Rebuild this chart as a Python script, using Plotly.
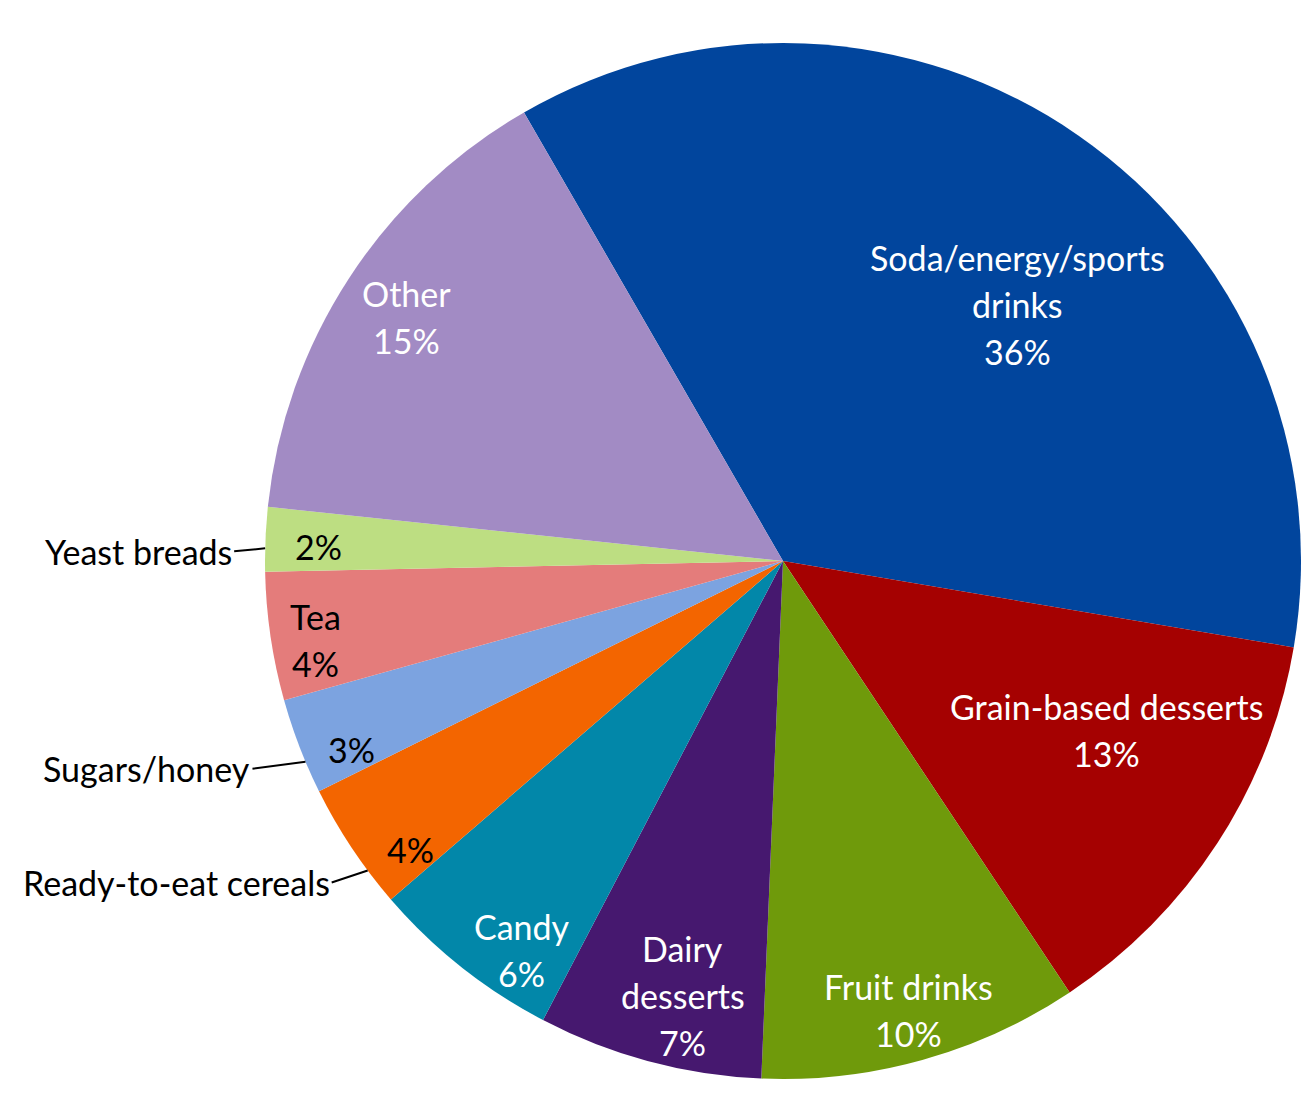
import math
import plotly.graph_objects as go

# Sources of added sugars (share of total intake, %)
categories = [
    "Soda/energy/sports drinks",
    "Grain-based desserts",
    "Fruit drinks",
    "Dairy desserts",
    "Candy",
    "Ready-to-eat cereals",
    "Sugars/honey",
    "Tea",
    "Yeast breads",
    "Other",
]
shares = [36, 13, 10, 7, 6, 4, 3, 4, 2, 15]

# How each category name is wrapped inside its slice ([] = name drawn outside)
inside_names = [
    ["Soda/energy/sports", "drinks"],
    ["Grain-based desserts"],
    ["Fruit drinks"],
    ["Dairy", "desserts"],
    ["Candy"],
    [],
    [],
    ["Tea"],
    [],
    ["Other"],
]
outside_names = ["Yeast breads", "Sugars/honey", "Ready-to-eat cereals"]

slice_colors = [
    "#01459D", "#A50101", "#6F9A0B", "#46186F", "#0287A9",
    "#F36500", "#7CA3E0", "#E47C7B", "#BDDE82", "#A28BC4",
]
text_colors = [
    "white", "white", "white", "white", "white",
    "black", "black", "black", "black", "white",
]

# Figure geometry (pixels)
W, H = 1301, 1107
CX, CY, R = 783, 561, 518
ROTATION = -30
FONT = "Lato, 'Open Sans', sans-serif"
FSIZE = 34
LINE_H = 47

# Placement of the in-slice labels: radial fraction and angular nudge (deg)
label_r = [0.67, 0.705, 0.90, 0.86, 0.905, 0.91, 0.91, 0.915, 0.898, 0.866]
label_shift = [7.6, -5.5, 0.0, -2.0, -4.5, -4.2, -2.6, -1.2, -0.6, 0.0]

# Leader lines for names drawn outside: tip angle nudge (deg), text offset (px)
leader_shift = {"Yeast breads": -1.0, "Sugars/honey": -1.8, "Ready-to-eat cereals": -3.1}
leader_offset = {"Yeast breads": (-31, 3), "Sugars/honey": (-53, 7), "Ready-to-eat cereals": (-36, 12)}

fig = go.Figure(
    go.Pie(
        labels=categories,
        values=shares,
        sort=False,
        direction="clockwise",
        rotation=ROTATION,
        marker=dict(colors=slice_colors, line=dict(width=0)),
        textinfo="none",
        hoverinfo="label+percent",
        showlegend=False,
        domain=dict(
            x=[(CX - R) / W, min(1.0, (CX + R) / W)],
            y=[(H - CY - R) / H, (H - CY + R) / H],
        ),
    )
)


def polar_px(angle_deg, frac):
    a = math.radians(angle_deg)
    return CX + frac * R * math.sin(a), CY - frac * R * math.cos(a)


total = sum(shares)
start = ROTATION
annotations = []
for i, (name, v) in enumerate(zip(categories, shares)):
    span = 360.0 * v / total
    mid = start + span / 2
    start += span

    lines = inside_names[i] + [f"{v}%"]
    px, py = polar_px(mid + label_shift[i], label_r[i])
    n = len(lines)
    for k, line in enumerate(lines):
        ly = py + (k - (n - 1) / 2) * LINE_H
        annotations.append(dict(
            x=px / W, y=1 - ly / H, xref="paper", yref="paper",
            text=line, showarrow=False,
            font=dict(family=FONT, size=FSIZE, color=text_colors[i]),
            xanchor="center", yanchor="middle",
        ))

    if name in outside_names:
        tx, ty = polar_px(mid + leader_shift[name], 1.0)
        ax, ay = leader_offset[name]
        annotations.append(dict(
            x=tx / W, y=1 - ty / H, xref="paper", yref="paper", text=name,
            showarrow=True, arrowhead=0, arrowwidth=2, arrowcolor="black",
            ax=ax, ay=ay, axref="pixel", ayref="pixel",
            xanchor="right", yanchor="middle", standoff=0, startstandoff=0,
            font=dict(family=FONT, size=FSIZE, color="black"),
        ))

fig.update_layout(
    width=W,
    height=H,
    margin=dict(l=0, r=0, t=0, b=0),
    paper_bgcolor="white",
    plot_bgcolor="white",
    annotations=annotations,
)

fig.write_html("out.html")
